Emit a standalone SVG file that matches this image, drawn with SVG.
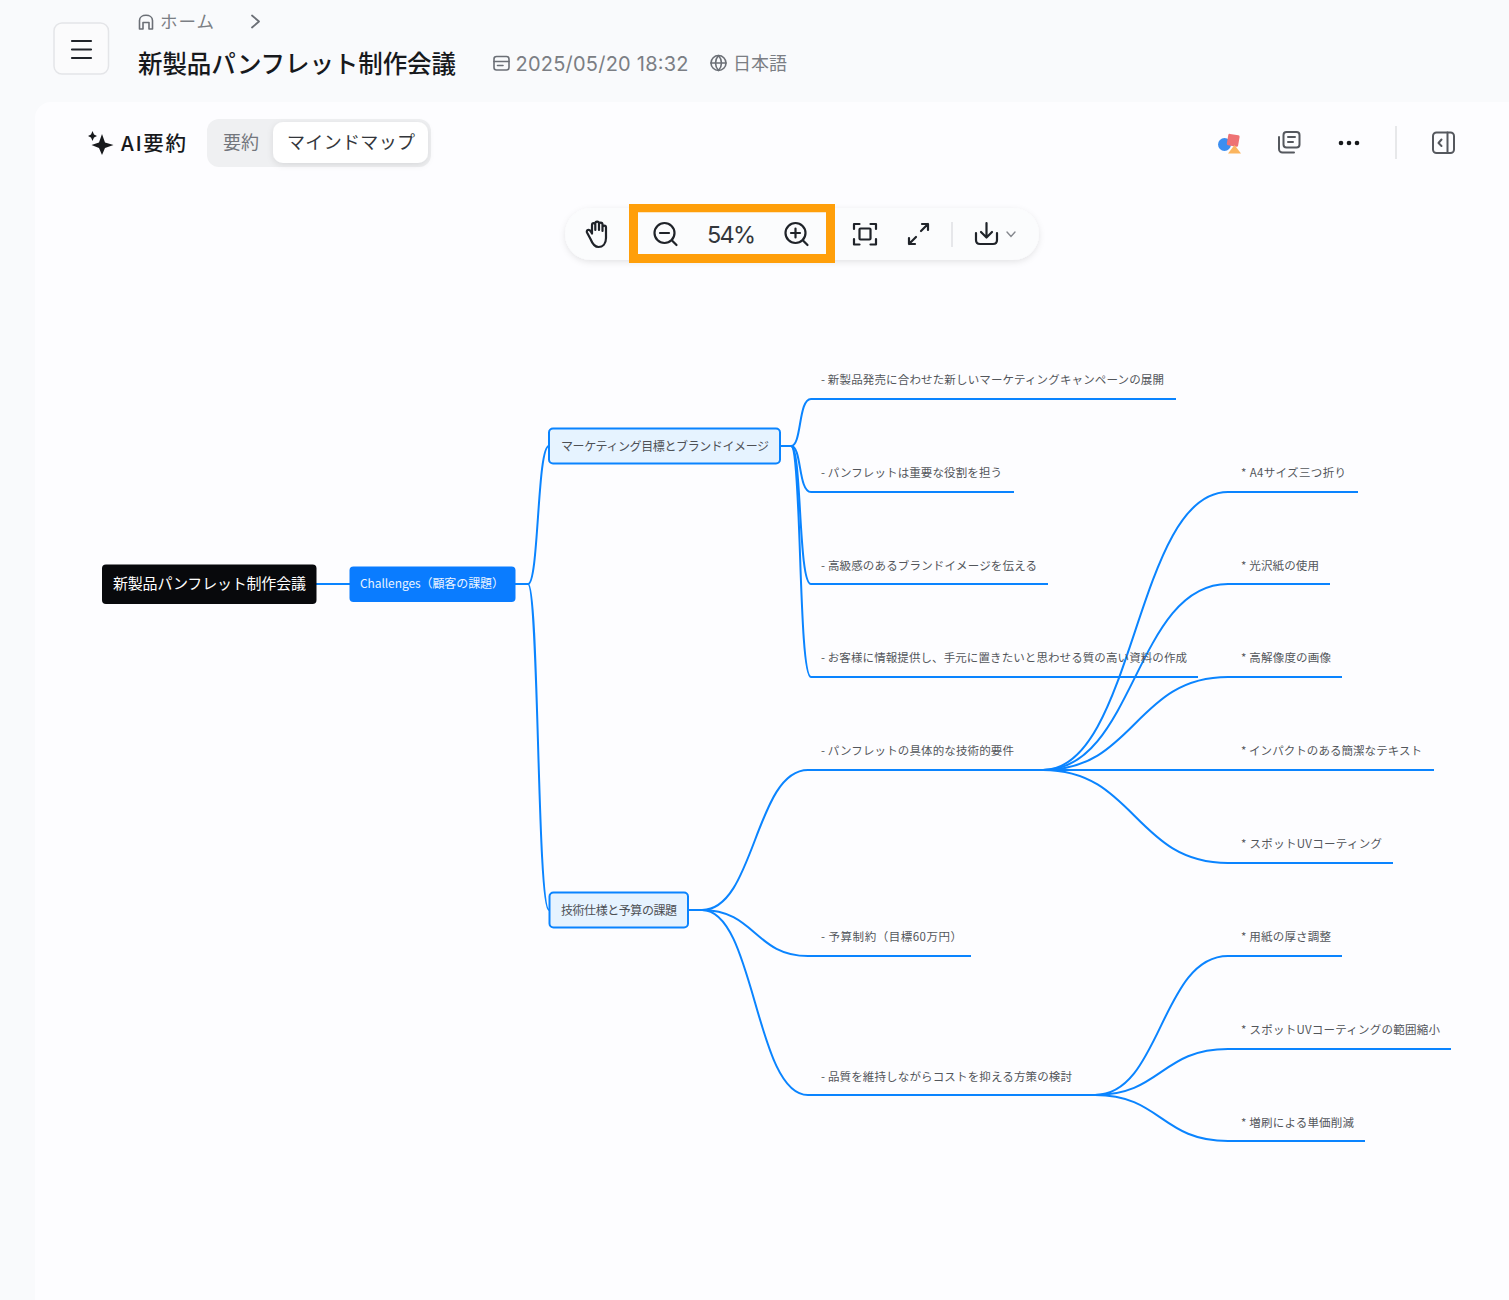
<svg xmlns="http://www.w3.org/2000/svg" width="1509" height="1300" viewBox="0 0 1509 1300">
<defs>
<filter id="soft" x="-20%" y="-40%" width="140%" height="180%"><feDropShadow dx="0" dy="2" stdDeviation="3" flood-color="#000" flood-opacity="0.1"/></filter>
</defs>
<style>
text{font-family:"Noto Sans CJK JP","Noto Sans",sans-serif;}
.lat{font-family:Inter,"Noto Sans CJK JP",sans-serif;}
.ic{fill:none;stroke:#1f2329;stroke-width:2.2;stroke-linecap:round;stroke-linejoin:round;}
.ig{fill:none;stroke:#6b6f76;stroke-width:1.6;stroke-linecap:round;stroke-linejoin:round;}
.lb{font-size:11.5px;fill:#53565b;}
.c{fill:none;stroke:#0a84ff;stroke-width:2;}
.n2{fill:#e6f3ff;stroke:#0a84ff;stroke-width:2;}
</style>
<rect width="1509" height="1300" fill="#f9fafc"/>
<rect x="35" y="102" width="1490" height="1230" rx="16" fill="#fdfdff"/>
<g id="header">
<rect x="54" y="23" width="54.500" height="51" rx="8" fill="#fbfbfc" stroke="#e4e5e8" stroke-width="1.500"/>
<path d="M72 41H91M72 49.500H91M72 58H91" class="ic"/>
<path d="M139.500 29V20.500C139.500 13.500 152.500 13.500 152.500 20.500V29H149V22.500H143V29Z" class="ig"/>
<text x="160" y="28" font-size="17.500" fill="#7b7e84" textLength="54">ホーム</text>
<path d="M252 15.500L259 21.500L252 27.500" fill="none" stroke="#6b6f76" stroke-width="1.800" stroke-linecap="round" stroke-linejoin="round"/>
<text x="138" y="72.500" font-size="24.500" font-weight="500" fill="#17191c" textLength="318">新製品パンフレット制作会議</text>
<rect x="494" y="56.500" width="15" height="13.500" rx="2.500" class="ig"/>
<path d="M494 61.500H509M497.500 65.500H503" class="ig"/>
<text x="515.500" y="71" font-size="20" class="lat" fill="#7b7e84" textLength="173">2025/05/20 18:32</text>
<circle cx="718.500" cy="63" r="7.500" class="ig"/>
<path d="M711 63H726M718.500 55.500C714.500 60 714.500 66 718.500 70.500C722.500 66 722.500 60 718.500 55.500Z" class="ig"/>
<text x="733" y="70" font-size="18" fill="#7b7e84" textLength="54">日本語</text>
</g>
<g id="tabs">
<path d="M102 134L105 142.500L113.500 145L105 148L102 155L99 148L91.500 145L99 142.500ZM92.500 131L94 134.500L97 136L94 137.500L92.500 141L91 137.500L88 136L91 134.500Z" fill="#17191c"/>
<text x="121" y="150.500" font-size="20.500" font-weight="500" fill="#17191c" textLength="65">AI要約</text>
<rect x="207" y="119" width="224" height="48" rx="12" fill="#eff0f2"/>
<text x="223" y="149" font-size="18" fill="#73767c" textLength="36">要約</text>
<rect x="273" y="122" width="155" height="41" rx="10" fill="#fff" filter="url(#soft)"/>
<text x="287" y="149" font-size="18" fill="#33363b" textLength="128">マインドマップ</text>
</g>
<g id="top-actions">
<circle cx="1224.500" cy="144.500" r="6.500" fill="#3b8ef0"/>
<rect x="1227.500" y="134.500" width="11.500" height="11.500" rx="1.500" transform="rotate(10 1233 140)" fill="#ee7274"/>
<path d="M1234.500 145L1241 153.500H1228Z" fill="#fbb55f"/>
<rect x="1283.500" y="132" width="16" height="15.500" rx="3" class="ic" style="stroke:#55585e;stroke-width:2"/>
<path d="M1288 137H1295M1288 142H1293M1279 137V149A3.500 3.500 0 0 0 1282.500 152.500H1294" class="ic" style="stroke:#55585e;stroke-width:2"/>
<circle cx="1341" cy="143" r="2.300" fill="#17191c"/><circle cx="1349" cy="143" r="2.300" fill="#17191c"/><circle cx="1357" cy="143" r="2.300" fill="#17191c"/>
<path d="M1396 126V159" stroke="#dfe0e3" stroke-width="1.500"/>
<rect x="1433" y="132.500" width="21" height="20.500" rx="3.500" class="ic" style="stroke:#55585e;stroke-width:2"/>
<path d="M1447.500 132.500V153M1441.500 139.500L1438.500 143L1441.500 146" class="ic" style="stroke:#55585e;stroke-width:2"/>
</g>
<g id="toolbar">
<rect x="565" y="208" width="474" height="52" rx="26" fill="#fbfcfd" filter="url(#soft)"/>
<path d="M590.500 239L587 232.500C586 230 589 229 590.500 231L592 233.500V225C592 222.500 595.300 222.500 595.300 225V230V223.500C595.300 221 599 221 599 223.500V230V224.500C599 222 602.500 222 602.500 224.500V231V227.500C602.500 225 606 225 606 227.500V238C606 244 602.500 247 598.500 247C594.500 247 592.500 244 590.500 239Z" class="ic"/>
<path d="M629 204H835V263H629ZM638 212.500V254H826V212.500Z" fill="#ff9f0a" fill-rule="evenodd"/>
<rect x="638" y="212.500" width="188" height="41.500" fill="#fbfcfd"/>
<circle cx="664.500" cy="233" r="10" class="ic"/><path d="M672 240.500L676.500 245M660 233H669" class="ic"/>
<text x="707" y="243" font-size="23.500" class="lat" fill="#33363b" textLength="49">54%</text>
<circle cx="795.500" cy="233" r="10" class="ic"/><path d="M803 240.500L807.500 245M791 233H800M795.500 228.500V237.500" class="ic"/>
<path d="M854 229V224H859.500M870.500 224H876V229M876 239V244.500H870.500M859.500 244.500H854V239" class="ic"/>
<rect x="859.500" y="228.500" width="11" height="11" rx="1" class="ic"/>
<path d="M909 238V244H915M909 244L916 237M921 231L928 224M922 224H928V230" class="ic"/>
<path d="M952 222V247" stroke="#dfe0e3" stroke-width="1.500"/>
<path d="M976 233V240C976 242.500 977.500 244 980 244H993C995.500 244 997 242.500 997 240V233M986.500 223V237M981 232L986.500 237.500L992 232" class="ic"/>
<path d="M1007 232L1011 236.500L1015 232" fill="none" stroke="#85888e" stroke-width="1.400" stroke-linecap="round"/>
</g>
<g id="connectors">
<path class="c" d="M316 584H350"/>
<path class="c" d="M515 584H528C539 584 537 446 549 446"/>
<path class="c" d="M515 584H528C539 584 537 910 549 910"/>
<path class="c" d="M780 446H791C802 446 798 399 811 399H1176"/>
<path class="c" d="M780 446H791C802 446 798 492 811 492H1014"/>
<path class="c" d="M780 446H791C802 446 798 584 811 584H1048"/>
<path class="c" d="M780 446H791C802 446 798 677 811 677H1198"/>
<path class="c" d="M688 910H702C755 910 755 770 808 770H1043"/>
<path class="c" d="M688 910H702C755 910 755 956 808 956H971"/>
<path class="c" d="M688 910H702C755 910 755 1095 808 1095H1095"/>
<path class="c" d="M1043 770C1135 770 1135 492 1228 492H1358"/>
<path class="c" d="M1043 770C1135 770 1135 584 1228 584H1330"/>
<path class="c" d="M1043 770C1135 770 1135 677 1228 677H1342"/>
<path class="c" d="M1043 770H1434"/>
<path class="c" d="M1043 770C1135 770 1135 863 1228 863H1393"/>
<path class="c" d="M1095 1095C1161 1095 1161 956 1228 956H1342"/>
<path class="c" d="M1095 1095C1161 1095 1161 1049 1228 1049H1451"/>
<path class="c" d="M1095 1095C1161 1095 1161 1141 1228 1141H1365"/>
</g>
<g id="node-root"><rect x="102" y="564.500" width="214.500" height="39.500" rx="4" fill="#08090c"/><text x="113" y="589" font-size="15" fill="#fff" textLength="193">新製品パンフレット制作会議</text></g>
<g id="node-challenges"><rect x="349.500" y="566.500" width="166" height="35.500" rx="4" fill="#0a7cff"/><text x="360" y="588" font-size="12" fill="#e9f3ff" textLength="144">Challenges（顧客の課題）</text></g>
<g id="node-marketing"><rect class="n2" x="549" y="428.500" width="231" height="35" rx="4"/><text x="561" y="450.500" font-size="12" fill="#4d5055" textLength="208">マーケティング目標とブランドイメージ</text></g>
<g id="node-tech"><rect class="n2" x="549.500" y="892.500" width="138.500" height="35" rx="4"/><text x="561" y="915" font-size="12" fill="#4d5055" textLength="116">技術仕様と予算の課題</text></g>
<g id="node-m1"><text class="lb" x="821" y="384" textLength="343">- 新製品発売に合わせた新しいマーケティングキャンペーンの展開</text></g>
<g id="node-m2"><text class="lb" x="821" y="477" textLength="181">- パンフレットは重要な役割を担う</text></g>
<g id="node-m3"><text class="lb" x="821" y="570" textLength="216">- 高級感のあるブランドイメージを伝える</text></g>
<g id="node-m4"><text class="lb" x="821" y="662" textLength="366">- お客様に情報提供し、手元に置きたいと思わせる質の高い資料の作成</text></g>
<g id="node-t1"><text class="lb" x="821" y="755" textLength="193">- パンフレットの具体的な技術的要件</text></g>
<g id="node-t2"><text class="lb" x="821" y="941" textLength="141">- 予算制約（目標60万円）</text></g>
<g id="node-t3"><text class="lb" x="821" y="1081" textLength="251">- 品質を維持しながらコストを抑える方策の検討</text></g>
<g id="node-l1"><text class="lb" x="1241" y="477" textLength="105">* A4サイズ三つ折り</text></g>
<g id="node-l2"><text class="lb" x="1241" y="570" textLength="78">* 光沢紙の使用</text></g>
<g id="node-l3"><text class="lb" x="1241" y="662" textLength="90">* 高解像度の画像</text></g>
<g id="node-l4"><text class="lb" x="1241" y="755" textLength="181">* インパクトのある簡潔なテキスト</text></g>
<g id="node-l5"><text class="lb" x="1241" y="848" textLength="141">* スポットUVコーティング</text></g>
<g id="node-l6"><text class="lb" x="1241" y="941" textLength="90">* 用紙の厚さ調整</text></g>
<g id="node-l7"><text class="lb" x="1241" y="1034" textLength="199">* スポットUVコーティングの範囲縮小</text></g>
<g id="node-l8"><text class="lb" x="1241" y="1127" textLength="113">* 増刷による単価削減</text></g>
</svg>
